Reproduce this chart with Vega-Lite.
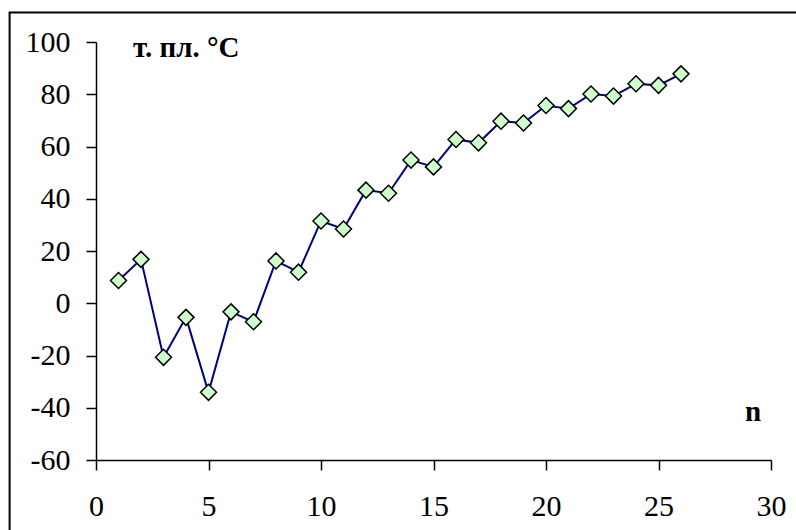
{
  "$schema": "https://vega.github.io/schema/vega-lite/v6.json",
  "width": 675,
  "height": 418,
  "autosize": {"type": "none"},
  "padding": {"left": 96, "top": 42, "right": 25, "bottom": 70},
  "background": "white",
  "config": {
    "view": {"stroke": null},
    "font": "Liberation Serif",
    "axis": {
      "title": null, "grid": false,
      "domainColor": "black", "domainWidth": 1.5, "tickColor": "black", "tickWidth": 1.5,
      "tickSize": 10, "labelFontSize": 30, "labelColor": "black",
      "labelFont": "Liberation Serif", "labelFlush": false
    },
    "axisX": {"labelPadding": 21},
    "axisY": {"labelPadding": 16}
  },
  "datasets": {
    "pts": [
      {"n": 1, "t": 8.7},
      {"n": 2, "t": 16.8},
      {"n": 3, "t": -20.7},
      {"n": 4, "t": -5.4},
      {"n": 5, "t": -34.1},
      {"n": 6, "t": -3.3},
      {"n": 7, "t": -7.1},
      {"n": 8, "t": 16.2},
      {"n": 9, "t": 11.9},
      {"n": 10, "t": 31.5},
      {"n": 11, "t": 28.4},
      {"n": 12, "t": 43.3},
      {"n": 13, "t": 42.1},
      {"n": 14, "t": 54.8},
      {"n": 15, "t": 52.2},
      {"n": 16, "t": 62.7},
      {"n": 17, "t": 61.4},
      {"n": 18, "t": 69.7},
      {"n": 19, "t": 69.0},
      {"n": 20, "t": 75.7},
      {"n": 21, "t": 74.5},
      {"n": 22, "t": 80.1},
      {"n": 23, "t": 79.3},
      {"n": 24, "t": 84.0},
      {"n": 25, "t": 83.4},
      {"n": 26, "t": 87.8}
    ]
  },
  "encoding": {
    "x": {
      "type": "quantitative",
      "scale": {"domain": [0, 30], "nice": false, "zero": false},
      "axis": {"values": [0, 5, 10, 15, 20, 25, 30], "labelExpr": "'' + datum.value"}
    },
    "y": {
      "type": "quantitative",
      "scale": {"domain": [-60, 100], "nice": false, "zero": false},
      "axis": {"values": [-60, -40, -20, 0, 20, 40, 60, 80, 100], "labelExpr": "'' + datum.value"}
    }
  },
  "layer": [
    {
      "data": {"values": [{"x": -3.84, "x2": 36, "y": 111.3, "y2": -95}]},
      "mark": {"type": "rect", "fill": null, "stroke": "black", "strokeWidth": 2, "clip": false},
      "encoding": {
        "x": {"field": "x", "type": "quantitative"},
        "x2": {"field": "x2"},
        "y": {"field": "y", "type": "quantitative"},
        "y2": {"field": "y2"}
      }
    },
    {
      "data": {"name": "pts"},
      "mark": {"type": "line", "color": "#000080", "strokeWidth": 2},
      "encoding": {
        "x": {"field": "n", "type": "quantitative"},
        "y": {"field": "t", "type": "quantitative"}
      }
    },
    {
      "data": {"name": "pts"},
      "mark": {"type": "point", "shape": "diamond", "filled": true, "fill": "#CCFFCC", "stroke": "black", "strokeWidth": 1.5, "size": 256, "opacity": 1},
      "encoding": {
        "x": {"field": "n", "type": "quantitative"},
        "y": {"field": "t", "type": "quantitative"}
      }
    },
    {
      "data": {"values": [{"x": 1.64, "y": 94.3, "label": "т. пл. °C"}, {"x": 28.84, "y": -45.1, "label": "n"}]},
      "mark": {"type": "text", "font": "Liberation Serif", "fontWeight": "bold", "fontSize": 29, "align": "left", "baseline": "alphabetic", "color": "black"},
      "encoding": {
        "x": {"field": "x", "type": "quantitative"},
        "y": {"field": "y", "type": "quantitative"},
        "text": {"field": "label"}
      }
    }
  ]
}
